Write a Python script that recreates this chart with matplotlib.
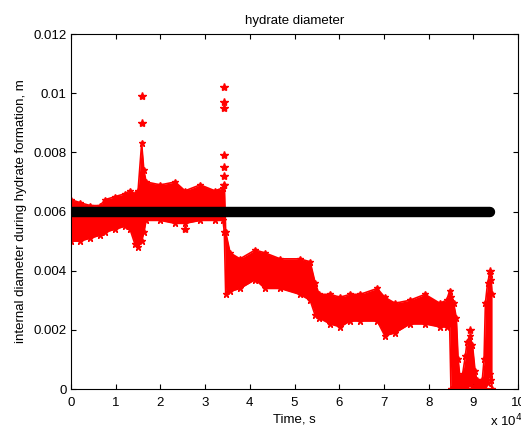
import matplotlib
matplotlib.use("Agg")
from matplotlib import pyplot as plt
from matplotlib.ticker import FuncFormatter, MultipleLocator

plt.rcParams["font.family"] = ["Liberation Sans", "DejaVu Sans"]
plt.rcParams["font.size"] = 9.5

# red measurements, read as an upper/lower envelope (time in s, diameter in m)
t_env = [0, 2000, 4300, 6500, 7600, 9800, 12000, 13200, 14300, 15000, 15800, 16300,
         16800, 20000, 23300, 25500, 28900, 32200, 34000, 34300, 34600, 35600, 37800,
         41200, 43400, 46800, 51200, 53500, 54600, 55500, 58000, 60200, 62400, 64700,
         68500, 70200, 72500, 75800, 79200, 82500, 84000, 84700, 85000, 85600, 86200,
         86600, 87000, 87600, 88200, 88600, 89200, 89800, 90400, 90800, 92000, 92400,
         92700, 93200, 93700, 94000, 94200]
upper = [0.0064, 0.0063, 0.0062, 0.0062, 0.0064, 0.0065, 0.0066, 0.0067, 0.0066, 0.0067,
         0.0083, 0.0074, 0.0070, 0.0069, 0.0070, 0.0067, 0.0069, 0.0067, 0.0068, 0.0069,
         0.0053, 0.0046, 0.0044, 0.0047, 0.0046, 0.0044, 0.0044, 0.0043, 0.0036, 0.0032,
         0.0032, 0.0031, 0.0032, 0.0032, 0.0034, 0.0031, 0.0029, 0.0030, 0.0032, 0.0029,
         0.0030, 0.0033, 0.0031, 0.0029, 0.0024, 0.0010, 0.0004, 0.0005, 0.0011, 0.0016,
         0.0018, 0.0015, 0.0006, 0.0003, 0.0003, 0.0010, 0.0029, 0.0036, 0.0039, 0.0037,
         0.0032]
lower = [0.0050, 0.0050, 0.0051, 0.0052, 0.0053, 0.0054, 0.0055, 0.0054, 0.0049, 0.0048,
         0.0050, 0.0053, 0.0057, 0.0057, 0.0056, 0.0056, 0.0057, 0.0057, 0.0057, 0.0053,
         0.0032, 0.0033, 0.0034, 0.0037, 0.0034, 0.0034, 0.0032, 0.0030, 0.0025, 0.0024,
         0.0022, 0.0021, 0.0023, 0.0023, 0.0023, 0.0018, 0.0019, 0.0022, 0.0022, 0.0021,
         0.0021, 0.0022, 0.0000, 0.0000, 0.0000, 0.0000, 0.0000, 0.0000, 0.0000, 0.0001,
         0.0002, 0.0001, 0.0000, 0.0000, 0.0000, 0.0000, 0.0000, 0.0002, 0.0005, 0.0003,
         0.0000]

# isolated red points away from the band
t_spike = [15800, 15800, 25500, 34200, 34200, 34300, 34200, 34200, 34200, 34300, 89200, 93700]
v_spike = [0.0099, 0.0090, 0.0054, 0.0102, 0.0097, 0.0095, 0.0079, 0.0075, 0.0072, 0.0069,
           0.0020, 0.0040]

# black reference diameter
t_ref = [0, 93800]
d_ref = [0.006, 0.006]

fig = plt.figure(figsize=(5.21, 4.30), dpi=100)
ax = fig.add_axes([0.1363, 0.0953, 0.8580, 0.8256])

ax.fill_between(t_env, lower, upper, color="red", linewidth=0)
ax.plot(t_env, upper, color="red", marker="*", markersize=5, linewidth=1.2)
ax.plot(t_env, lower, color="red", marker="*", markersize=5, linewidth=1.2)
ax.plot(t_spike, v_spike, color="red", marker="*", markersize=6, linestyle="none")
ax.plot(t_ref, d_ref, color="black", linewidth=7.5, solid_capstyle="round")

ax.set_xlim(0, 100000)
ax.set_ylim(0, 0.012)
ax.xaxis.set_major_locator(MultipleLocator(10000))
ax.yaxis.set_major_locator(MultipleLocator(0.002))
ax.xaxis.set_major_formatter(FuncFormatter(lambda v, p: "%g" % (v / 1e4)))
ax.yaxis.set_major_formatter(FuncFormatter(lambda v, p: "%g" % round(v, 4)))
ax.tick_params(direction="in", length=3.5, top=True, right=True, pad=3)
ax.tick_params(axis="x", pad=6)
for s in ax.spines.values():
    s.set_linewidth(0.8)

ax.set_title("hydrate diameter", fontsize=9.5, pad=7)
ax.set_xlabel("Time, s", labelpad=3)
ax.set_ylabel("internal diameter during hydrate formation, m", labelpad=5)
fig.text(0.94, 0.008, "x 10$^{4}$")

fig.savefig("out.png", dpi=100)
